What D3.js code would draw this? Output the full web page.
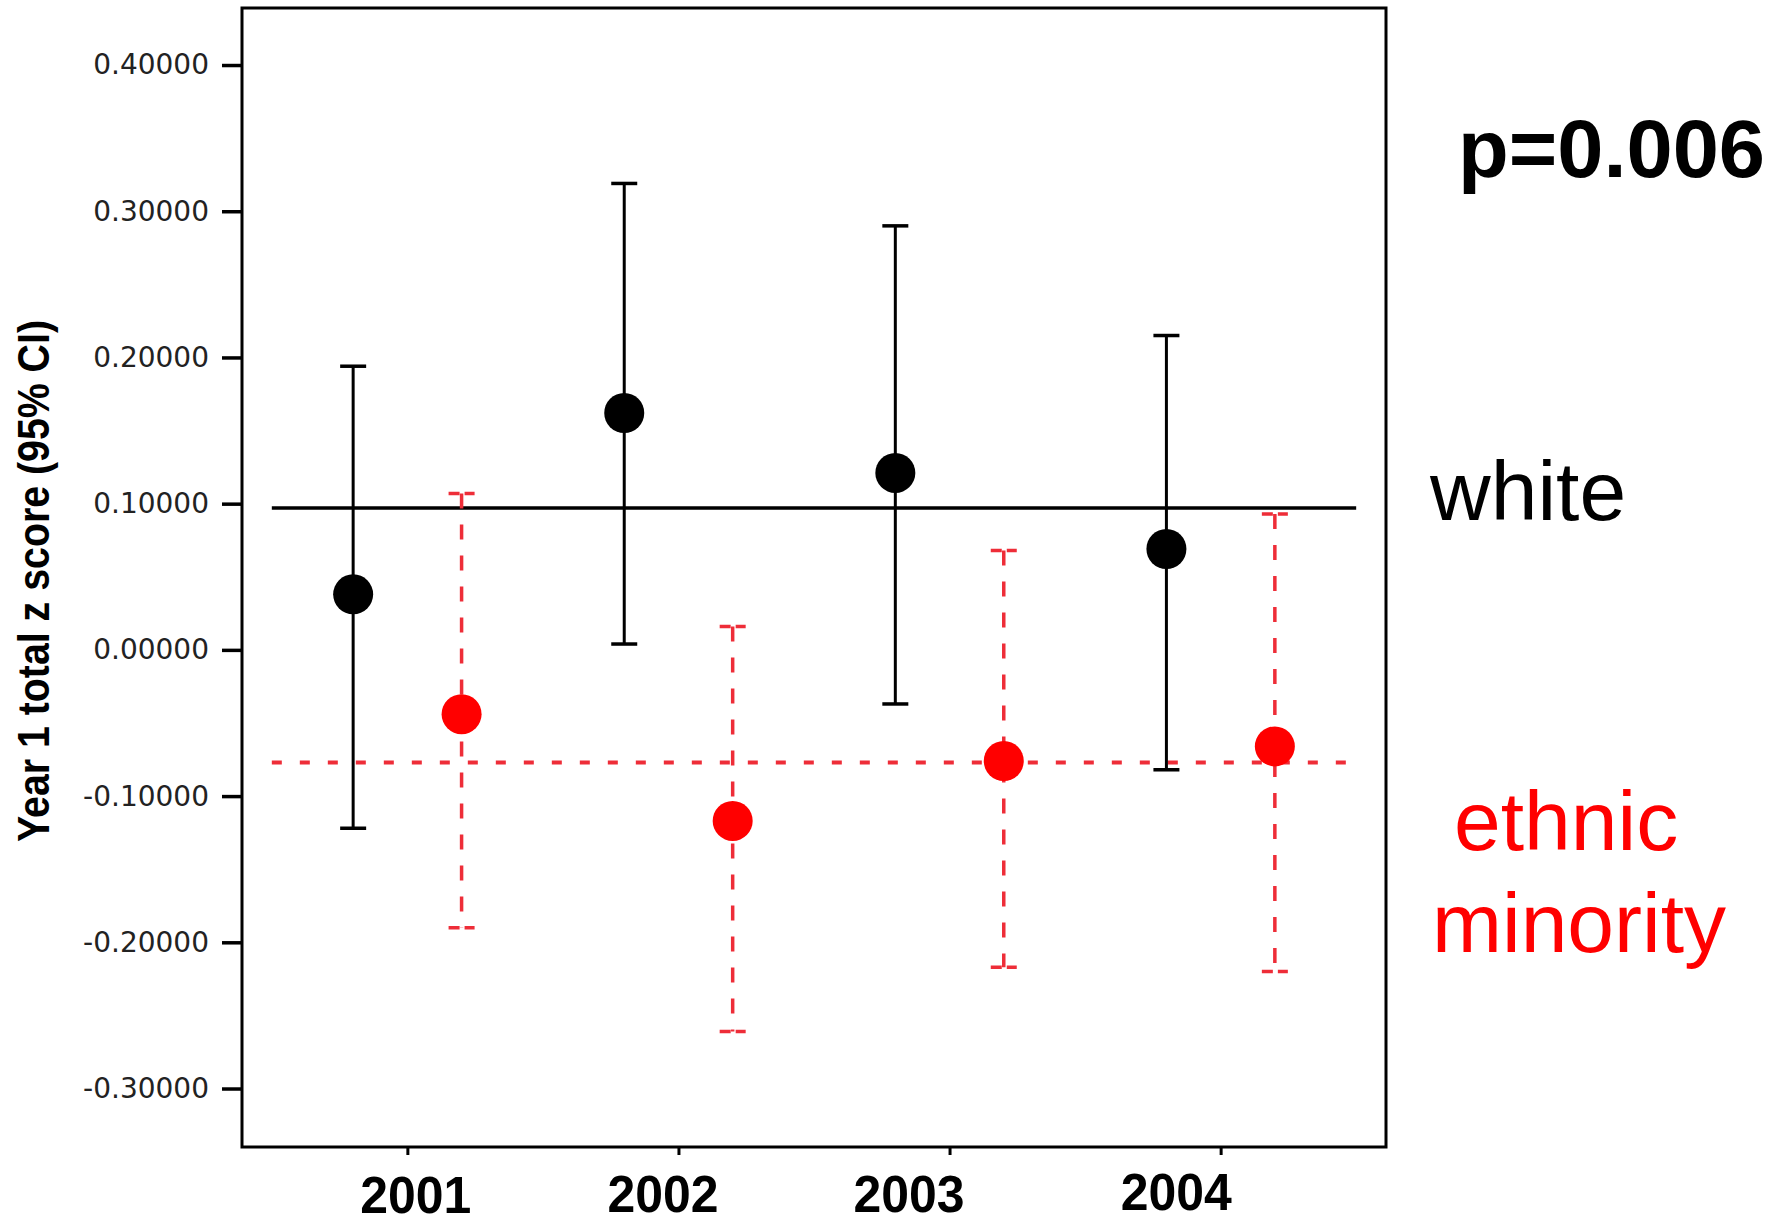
<!DOCTYPE html>
<html>
<head>
<meta charset="utf-8">
<script src="https://cdn.jsdelivr.net/npm/d3@7"></script>
<style>
  body { margin: 0; background: #fff; }
  svg { display: block; }
</style>
</head>
<body>
<div id="container"></div>
<script>
// values
const years = [2001, 2002, 2003, 2004];
const yearLabels = ["2001", "2002", "2003", "2004"];

const whiteMean = [0.038, 0.162, 0.121, 0.069];
const whiteLow  = [-0.122, 0.004, -0.037, -0.082];
const whiteHigh = [0.194, 0.319, 0.290, 0.215];

const minorityMean = [-0.044, -0.117, -0.076, -0.066];
const minorityLow  = [-0.190, -0.261, -0.217, -0.220];
const minorityHigh = [0.107, 0.016, 0.068, 0.093];

const whiteOverall = 0.097;
const minorityOverall = -0.077;

const yTicks = [-0.3, -0.2, -0.1, 0.0, 0.1, 0.2, 0.3, 0.4];

// the year labels sit a little off their ticks in the original
const labelNudgeX = [8, -16, -41, -45];
const labelNudgeY = [0, -1, -1, -3];

const width = 1786, height = 1223;
const frame = { left: 242, top: 8, right: 1386, bottom: 1147 };
const red = "#ff0000";
const redLine = "#ee2d38";
const sans = "'Liberation Sans', Arial, Helvetica, sans-serif";

const svg = d3.select("#container")
    .append("svg")
    .attr("width", width)
    .attr("height", height);

const x = d3.scaleLinear()
    .domain([2000.39, 2004.61])
    .range([frame.left, frame.right]);

const y = d3.scaleLinear()
    .domain([-0.34, 0.439])
    .range([frame.bottom, frame.top]);

const offset = 0.2; // white drawn left of the year, minority right

// frame
svg.append("rect")
    .attr("x", frame.left)
    .attr("y", frame.top)
    .attr("width", frame.right - frame.left)
    .attr("height", frame.bottom - frame.top)
    .attr("fill", "none")
    .attr("stroke", "#000")
    .attr("stroke-width", 3);

// y axis
const yAxis = svg.append("g")
    .attr("transform", `translate(${frame.left},0)`)
    .call(d3.axisLeft(y)
        .tickValues(yTicks)
        .tickSize(20)
        .tickPadding(13)
        .tickFormat(d => d.toFixed(5)));
yAxis.select(".domain").remove();
yAxis.selectAll(".tick line")
    .attr("stroke", "#000")
    .attr("stroke-width", 3.5);
yAxis.selectAll(".tick text")
    .attr("fill", "#222")
    .style("font-family", "'DejaVu Sans', sans-serif")
    .style("font-size", "28px");

// x axis
const xAxis = svg.append("g")
    .attr("transform", `translate(0,${frame.bottom})`)
    .call(d3.axisBottom(x)
        .tickValues(years)
        .tickSize(8)
        .tickFormat((d, i) => yearLabels[i]));
xAxis.select(".domain").remove();
xAxis.selectAll(".tick line")
    .attr("stroke", "#000")
    .attr("stroke-width", 3);
xAxis.selectAll(".tick text")
    .attr("fill", "#000")
    .attr("y", (d, i) => 66 + labelNudgeY[i])
    .attr("dy", 0)
    .attr("dx", (d, i) => labelNudgeX[i])
    .attr("textLength", 111)
    .attr("lengthAdjust", "spacingAndGlyphs")
    .style("font-family", sans)
    .style("font-weight", "bold")
    .style("font-size", "52px");

// y title
svg.append("text")
    .attr("transform", `translate(49,581) rotate(-90)`)
    .attr("text-anchor", "middle")
    .attr("textLength", 522)
    .attr("lengthAdjust", "spacingAndGlyphs")
    .style("font-family", sans)
    .style("font-weight", "bold")
    .style("font-size", "45px")
    .text("Year 1 total z score (95% CI)");

// overall reference lines
svg.append("line")
    .attr("x1", x(2000.5)).attr("x2", x(2004.5))
    .attr("y1", y(whiteOverall)).attr("y2", y(whiteOverall))
    .attr("stroke", "#000")
    .attr("stroke-width", 3.5);

svg.append("line")
    .attr("x1", x(2000.5)).attr("x2", x(2004.5))
    .attr("y1", y(minorityOverall)).attr("y2", y(minorityOverall))
    .attr("stroke", redLine)
    .attr("stroke-width", 4)
    .attr("stroke-dasharray", "10,18");

const capHalf = 13;

function drawGroup(mean, low, high, shift, opts) {
    const g = svg.append("g");
    const data = years.map((yr, i) => ({ x: x(yr + shift), m: mean[i], lo: low[i], hi: high[i] }));

    g.selectAll("line.bar")
        .data(data)
        .join("line")
        .attr("class", "bar")
        .attr("x1", d => d.x).attr("x2", d => d.x)
        .attr("y1", d => y(d.hi)).attr("y2", d => y(d.lo))
        .attr("stroke", opts.line)
        .attr("stroke-width", opts.barWidth)
        .attr("stroke-dasharray", opts.barDash);

    ["hi", "lo"].forEach(k => {
        g.selectAll(`line.cap-${k}`)
            .data(data)
            .join("line")
            .attr("class", `cap-${k}`)
            .attr("x1", d => d.x - capHalf).attr("x2", d => d.x + capHalf)
            .attr("y1", d => y(d[k])).attr("y2", d => y(d[k]))
            .attr("stroke", opts.line)
            .attr("stroke-width", 3.5)
            .attr("stroke-dasharray", opts.capDash);
    });

    g.selectAll("circle")
        .data(data)
        .join("circle")
        .attr("cx", d => d.x)
        .attr("cy", d => y(d.m))
        .attr("r", 20)
        .attr("fill", opts.dot);
}

drawGroup(whiteMean, whiteLow, whiteHigh, -offset,
    { line: "#000", dot: "#000", barWidth: 3, barDash: null, capDash: null });
drawGroup(minorityMean, minorityLow, minorityHigh, offset,
    { line: redLine, dot: red, barWidth: 3.5, barDash: "15,16", capDash: "11,5" });

// annotations on the right
svg.append("text")
    .attr("x", 1458).attr("y", 177)
    .attr("textLength", 307)
    .attr("lengthAdjust", "spacingAndGlyphs")
    .style("font-family", sans)
    .style("font-weight", "bold")
    .style("font-size", "82px")
    .text("p=0.006");

svg.append("text")
    .attr("x", 1430).attr("y", 520)
    .style("font-family", sans)
    .style("font-size", "84px")
    .text("white");

const minorityLabel = svg.append("text")
    .style("font-family", sans)
    .style("font-size", "84px")
    .attr("fill", red);
minorityLabel.append("tspan").attr("x", 1454).attr("y", 850).text("ethnic");
minorityLabel.append("tspan").attr("x", 1432).attr("y", 952).text("minority");
</script>
</body>
</html>
